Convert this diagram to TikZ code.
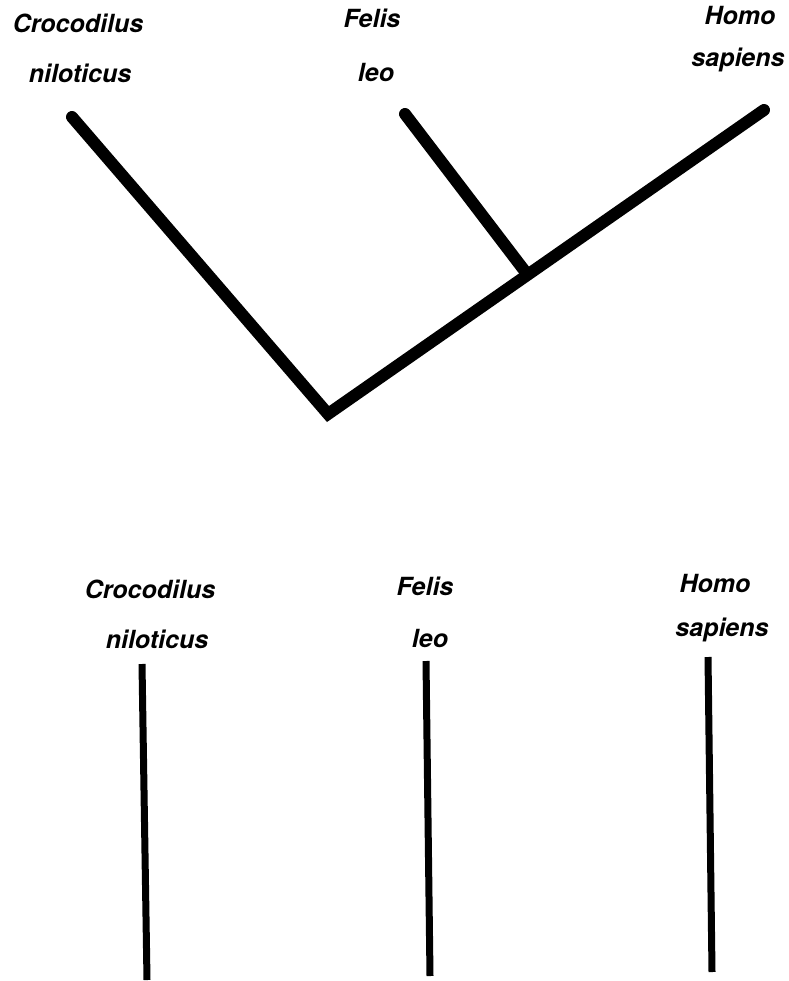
\documentclass[tikz,border=0pt]{standalone}
\usepackage{fontspec}
\setmainfont{TeX Gyre Heros}
\usepackage{tikz}
\usetikzlibrary{positioning}

\begin{document}
\begin{tikzpicture}[x=1pt, y=-1pt,
  taxon/.style={anchor=base, inner sep=0pt, font=\fontsize{25}{30}\selectfont\bfseries\itshape},
  branch/.style={line width=12pt, line cap=round, line join=miter},
  stick/.style={line width=7pt}
]
\useasboundingbox (0,0) rectangle (788,981);
% cladogram
\node[taxon] (croc1) at (78,33) {Crocodilus};
\node[taxon] (nilo1) at (80,83) {niloticus};
\node[taxon] (felis1) at (372,28) {Felis};
\node[taxon] (leo1) at (376,82) {leo};
\node[taxon] (homo1) at (740,25) {Homo};
\node[taxon] (sap1) at (738,67) {sapiens};
\coordinate (tcroc) at (72,117);
\coordinate (tfelis) at (405,114);
\coordinate (thomo) at (764,110);
\coordinate (root) at (328,414);
\coordinate (fork) at (527,274);
\draw[branch] (tcroc) -- (root) -- (thomo);
\draw[branch] (tfelis) -- (fork);

% unrelated taxa
\node[taxon] (croc2) at (150,598) {Crocodilus};
\node[taxon] (nilo2) at (157,648) {niloticus};
\node[taxon] (felis2) at (425,595) {Felis};
\node[taxon] (leo2) at (430,647) {leo};
\node[taxon] (homo2) at (715,592) {Homo};
\node[taxon] (sap2) at (722,636) {sapiens};
\coordinate (c0) at (142,664);
\coordinate (c1) at (147,980);
\coordinate (f0) at (426,661);
\coordinate (f1) at (430,976);
\coordinate (h0) at (708,657);
\coordinate (h1) at (712,972);
\draw[stick] (c0) -- (c1);
\draw[stick] (f0) -- (f1);
\draw[stick] (h0) -- (h1);
\end{tikzpicture}
\end{document}
